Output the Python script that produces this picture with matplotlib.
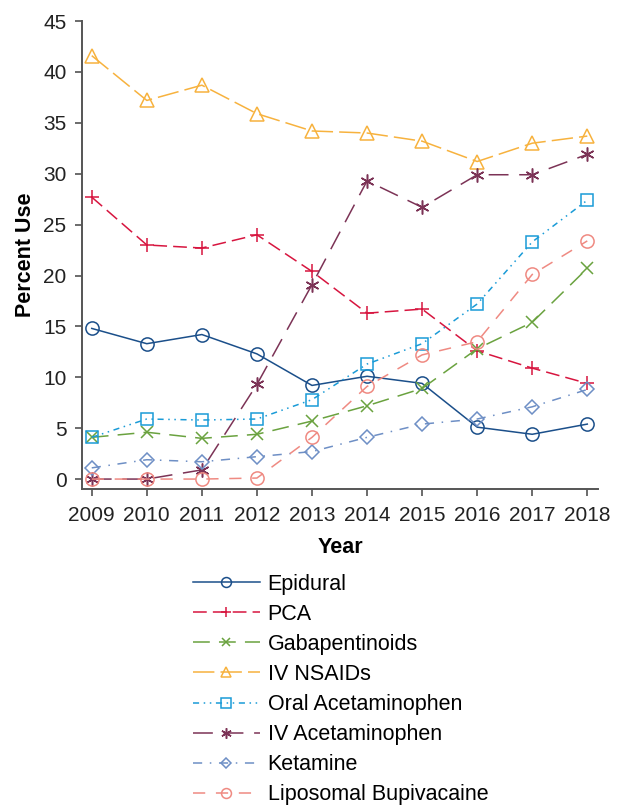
import matplotlib
matplotlib.use('Agg')
import matplotlib.pyplot as plt

plt.rcParams['font.family'] = ['Liberation Sans', 'DejaVu Sans']

# Percent use by year
years = [2009, 2010, 2011, 2012, 2013, 2014, 2015, 2016, 2017, 2018]
epidural = [14.8, 13.3, 14.2, 12.3, 9.2, 10.1, 9.4, 5.1, 4.4, 5.4]
pca = [27.7, 23.0, 22.7, 24.0, 20.4, 16.3, 16.7, 12.6, 10.9, 9.4]
gabapentinoids = [4.1, 4.6, 4.0, 4.4, 5.7, 7.2, 8.9, 12.8, 15.4, 20.7]
iv_nsaids = [41.6, 37.2, 38.7, 35.9, 34.2, 34.0, 33.2, 31.2, 33.0, 33.7]
oral_acet = [4.1, 5.9, 5.8, 5.9, 7.8, 11.3, 13.3, 17.2, 23.3, 27.4]
iv_acet = [0.0, 0.0, 0.9, 9.3, 19.1, 29.3, 26.7, 29.9, 29.9, 31.9]
ketamine = [1.1, 1.9, 1.7, 2.2, 2.7, 4.1, 5.4, 5.9, 7.1, 8.8]
lipo_bupi = [0.0, 0.0, 0.0, 0.1, 4.1, 9.1, 12.2, 13.5, 20.1, 23.4]

# name, values, colour, marker, marker size, line style
series = [
    ('Epidural', epidural, '#1b4f8a', 'o', 9.5, '-'),
    ('PCA', pca, '#d7153f', '+', 10, (0, (9, 4))),
    ('Gabapentinoids', gabapentinoids, '#6aa23f', 'x', 8.5, (0, (11, 6))),
    ('IV NSAIDs', iv_nsaids, '#f7b23e', '^', 10, (0, (14, 4))),
    ('Oral Acetaminophen', oral_acet, '#1a9bd7', 's', 9, (0, (4, 3, 1, 3, 1, 3))),
    ('IV Acetaminophen', iv_acet, '#7c3356', (6, 2, 0), 10, (0, (13, 7))),
    ('Ketamine', ketamine, '#6e8fc5', 'D', 7, (0, (6, 5, 1, 5))),
    ('Liposomal Bupivacaine', lipo_bupi, '#ef8a82', 'o', 9.5, (0, (8, 7))),
]

fig = plt.figure(figsize=(6.2, 8.1), dpi=100)
ax = fig.add_axes([0.132, 0.396, 0.833, 0.578])

handles = []
for name, vals, color, marker, ms, ls in series:
    h, = ax.plot(years, vals, color=color, linestyle=ls, linewidth=1.1,
                 marker=marker, markersize=ms, markerfacecolor='none',
                 markeredgecolor=color, markeredgewidth=1.1, label=name)
    handles.append(h)

ax.set_xlim(2008.82, 2018.2)
ax.set_ylim(-1, 45)
ax.set_yticks(range(0, 46, 5))
ax.set_xticks(years)
ax.tick_params(labelsize=15, labelcolor='#222222', direction='out',
               length=5, width=1.1, color='#444444')
ax.tick_params(axis='x', pad=7)
ax.tick_params(axis='y', pad=6)
ax.spines['top'].set_visible(False)
ax.spines['right'].set_visible(False)
for s in ('left', 'bottom'):
    ax.spines[s].set_linewidth(1.4)
    ax.spines[s].set_color('#555555')
ax.set_xlabel('Year', fontsize=15.5, fontweight='bold', labelpad=9)
ax.set_ylabel('Percent Use', fontsize=15.5, fontweight='bold', labelpad=5)

fig.legend(handles=handles, loc='upper left', bbox_to_anchor=(0.311, 0.2915),
           frameon=False, fontsize=15.5, handlelength=3.1, labelspacing=0.42,
           handletextpad=0.37, borderpad=0, borderaxespad=0, markerscale=0.75)

fig.savefig('out.png', dpi=100)
